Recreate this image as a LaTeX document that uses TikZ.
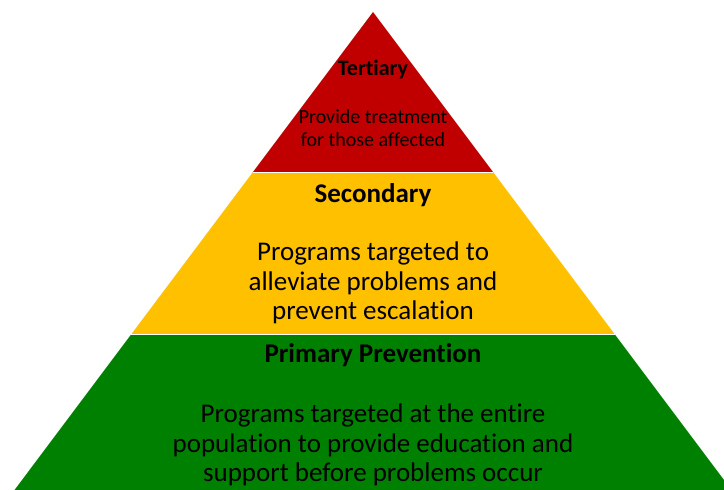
\documentclass[tikz,border=0pt]{standalone}
\usepackage{fontspec}
\setmainfont{Carlito}[Ligatures=NoCommon]
\definecolor{tierred}{HTML}{C00000}
\definecolor{tieryellow}{HTML}{FFC000}
\definecolor{tiergreen}{HTML}{008000}
\begin{document}
\begin{tikzpicture}[x=1pt,y=-1pt,
  band/.style={draw=none},
  divider/.style={white,line width=1.5pt},
  heading/.style={font=\fontsize{27}{29.5}\selectfont\bfseries,inner sep=0pt},
  smallheading/.style={font=\fontsize{22}{23}\selectfont\bfseries,inner sep=0pt},
  body/.style={font=\fontsize{27}{29.5}\selectfont,align=center,inner sep=0pt},
  smallbody/.style={font=\fontsize{20}{23}\selectfont,align=center,inner sep=0pt}]
  \useasboundingbox (0,0) rectangle (724,490);
  \begin{scope}
    \clip (0,0) rectangle (724,490);
    % corners of the three tiers
    \coordinate (apex) at (373,12);
    \coordinate (rl) at (252.6,172.5);
    \coordinate (rr) at (493.4,172.5);
    \coordinate (yl) at (131.1,334.5);
    \coordinate (yr) at (614.9,334.5);
    \coordinate (gl) at (14.5,490);
    \coordinate (gr) at (731.5,490);
    \fill[tiergreen,band] (yl) -- (yr) -- (gr) -- (gl) -- cycle;
    \fill[tieryellow,band] (rl) -- (rr) -- (yr) -- (yl) -- cycle;
    \fill[tierred,band] (apex) -- (rr) -- (rl) -- cycle;
    \draw[divider] (rl) -- (rr);
    \draw[divider] (yl) -- (yr);
  \end{scope}
  % tier labels
  \node[smallheading] (terth) at (373,70) {Tertiary};
  \node[smallbody] (tertb) at (373,128.5) {Provide treatment\\for those affected};
  \node[heading] (sech) at (373,195) {Secondary};
  \node[body] (secb) at (373,283) {Programs targeted to\\alleviate problems and\\prevent escalation};
  \node[heading] (primh) at (373,355) {Primary Prevention};
  \node[body] (primb) at (373,445) {Programs targeted at the entire\\population to provide education and\\support before problems occur};
\end{tikzpicture}
\end{document}
